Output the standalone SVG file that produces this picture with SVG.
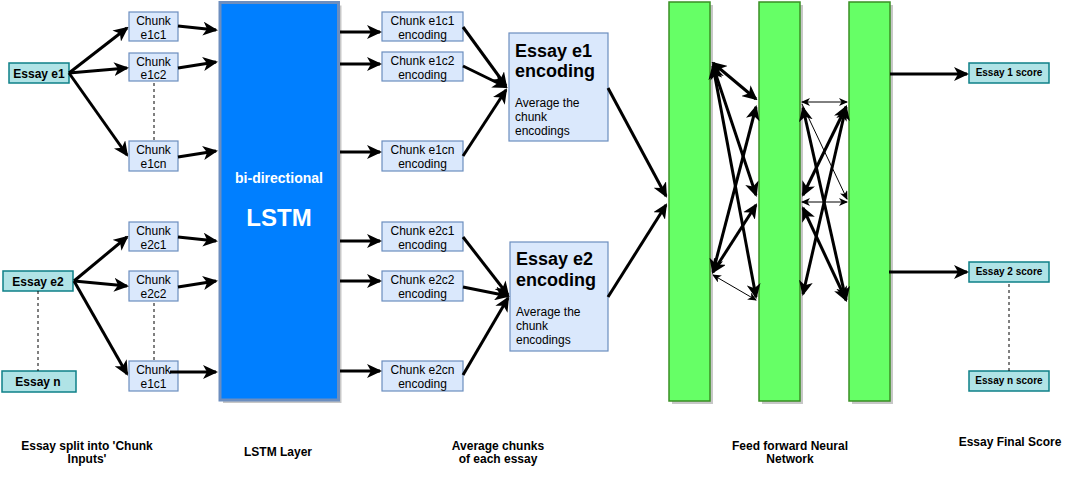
<svg xmlns="http://www.w3.org/2000/svg" width="1080" height="481" viewBox="0 0 1080 481">
<defs>
<style>
.essay{fill:#b0e3e6;stroke:#0e8088;stroke-width:1.5}
.chunk{fill:#dae8fc;stroke:#6c8ebf;stroke-width:1.2}
.t{font-family:"Liberation Sans",Arial,sans-serif;fill:#000}
.b{font-weight:bold}
.c12{font-size:12px}
.cw{stroke:#000;stroke-width:3;fill:none}
.thin{stroke:#000;stroke-width:1;fill:none}
.dash{stroke:#000;stroke-width:1;stroke-dasharray:3 3;fill:none}
.bar{fill:#66ff66;stroke:#3a8f24;stroke-width:1.5}
.shadow{fill:#bdbdbd;opacity:0.85}
</style>
<marker id="ah" viewBox="0 0 15 14" markerWidth="15" markerHeight="14" refX="13" refY="7" orient="auto-start-reverse" markerUnits="userSpaceOnUse"><path d="M0,0 L15,7 L0,14 L4,7 z" fill="#000"/></marker>
<marker id="ahs" viewBox="0 0 9 8" markerWidth="9" markerHeight="8" refX="8" refY="4" orient="auto-start-reverse" markerUnits="userSpaceOnUse"><path d="M0,0 L9,4 L0,8 L2.5,4 z" fill="#000"/></marker>
</defs>
<rect width="1080" height="481" fill="#fff"/>

<!-- LSTM -->
<g id="lstm">
<rect x="223" y="5.5" width="118.5" height="397.5" class="shadow"/>
<rect x="220" y="2.5" width="118.5" height="397.5" fill="#007fff" stroke="#6c8ebf" stroke-width="3"/>
<text x="279" y="183" text-anchor="middle" class="t b" style="font-size:14px;fill:#fff">bi-directional</text>
<text x="279" y="225.5" text-anchor="middle" class="t b" style="font-size:24px;fill:#fff">LSTM</text>
</g>

<!-- FFNN bars -->
<g id="bar1"><rect x="672" y="5" width="41" height="399" class="shadow"/><rect x="669" y="2" width="41" height="399" class="bar"/></g>
<g id="bar2"><rect x="762" y="5" width="41" height="399" class="shadow"/><rect x="759" y="2" width="41" height="399" class="bar"/></g>
<g id="bar3"><rect x="852" y="5" width="41" height="399" class="shadow"/><rect x="849" y="2" width="41" height="399" class="bar"/></g>

<!-- Essays -->
<g id="essay-e1"><rect x="9" y="63" width="60" height="20" class="essay"/><text x="39" y="77.5" text-anchor="middle" class="t b c12">Essay e1</text></g>
<g id="essay-e2"><rect x="3" y="271" width="70" height="20" class="essay"/><text x="38" y="285.5" text-anchor="middle" class="t b c12">Essay e2</text></g>
<g id="essay-n"><rect x="2" y="371" width="74" height="21" class="essay"/><text x="38" y="386" text-anchor="middle" class="t b c12">Essay n</text></g>

<!-- Chunks -->
<g id="chunk-e1c1"><rect x="129" y="12" width="49" height="29" class="chunk"/><text x="153.5" y="24.5" text-anchor="middle" class="t c12">Chunk</text><text x="153.5" y="38.5" text-anchor="middle" class="t c12">e1c1</text></g>
<g id="chunk-e1c2"><rect x="129" y="53" width="49" height="28" class="chunk"/><text x="153.5" y="65.5" text-anchor="middle" class="t c12">Chunk</text><text x="153.5" y="79" text-anchor="middle" class="t c12">e1c2</text></g>
<g id="chunk-e1cn"><rect x="129" y="141" width="49" height="30" class="chunk"/><text x="153.5" y="154" text-anchor="middle" class="t c12">Chunk</text><text x="153.5" y="168" text-anchor="middle" class="t c12">e1cn</text></g>
<g id="chunk-e2c1"><rect x="129" y="222" width="49" height="29" class="chunk"/><text x="153.5" y="234.5" text-anchor="middle" class="t c12">Chunk</text><text x="153.5" y="248.5" text-anchor="middle" class="t c12">e2c1</text></g>
<g id="chunk-e2c2"><rect x="129" y="271" width="49" height="30" class="chunk"/><text x="153.5" y="284" text-anchor="middle" class="t c12">Chunk</text><text x="153.5" y="298" text-anchor="middle" class="t c12">e2c2</text></g>
<g id="chunk-e2cn"><rect x="129" y="361" width="49" height="30" class="chunk"/><text x="153.5" y="374" text-anchor="middle" class="t c12">Chunk</text><text x="153.5" y="388" text-anchor="middle" class="t c12">e1c1</text></g>

<!-- Chunk encodings -->
<g id="enc-e1c1"><rect x="382" y="12" width="81" height="29" class="chunk"/><text x="422.5" y="24.5" text-anchor="middle" class="t c12">Chunk e1c1</text><text x="422.5" y="38.5" text-anchor="middle" class="t c12">encoding</text></g>
<g id="enc-e1c2"><rect x="382" y="52" width="81" height="29" class="chunk"/><text x="422.5" y="64.5" text-anchor="middle" class="t c12">Chunk e1c2</text><text x="422.5" y="78.5" text-anchor="middle" class="t c12">encoding</text></g>
<g id="enc-e1cn"><rect x="382" y="141" width="81" height="30" class="chunk"/><text x="422.5" y="154" text-anchor="middle" class="t c12">Chunk e1cn</text><text x="422.5" y="168" text-anchor="middle" class="t c12">encoding</text></g>
<g id="enc-e2c1"><rect x="382" y="222" width="81" height="29" class="chunk"/><text x="422.5" y="234.5" text-anchor="middle" class="t c12">Chunk e2c1</text><text x="422.5" y="248.5" text-anchor="middle" class="t c12">encoding</text></g>
<g id="enc-e2c2"><rect x="382" y="271" width="81" height="30" class="chunk"/><text x="422.5" y="284" text-anchor="middle" class="t c12">Chunk e2c2</text><text x="422.5" y="298" text-anchor="middle" class="t c12">encoding</text></g>
<g id="enc-e2cn"><rect x="382" y="361" width="81" height="30" class="chunk"/><text x="422.5" y="374" text-anchor="middle" class="t c12">Chunk e2cn</text><text x="422.5" y="388" text-anchor="middle" class="t c12">encoding</text></g>

<!-- Essay encodings -->
<g id="essay-e1-enc"><rect x="509" y="33" width="99" height="108" class="chunk"/>
<text x="515" y="56.5" class="t b" style="font-size:18px">Essay e1</text>
<text x="515" y="77" class="t b" style="font-size:18px">encoding</text>
<text x="515" y="107" class="t c12">Average the</text>
<text x="515" y="121" class="t c12">chunk</text>
<text x="515" y="135" class="t c12">encodings</text></g>
<g id="essay-e2-enc"><rect x="510" y="242" width="98" height="109" class="chunk"/>
<text x="516" y="265" class="t b" style="font-size:18px">Essay e2</text>
<text x="516" y="285.5" class="t b" style="font-size:18px">encoding</text>
<text x="516" y="315.5" class="t c12">Average the</text>
<text x="516" y="329.5" class="t c12">chunk</text>
<text x="516" y="343.5" class="t c12">encodings</text></g>

<!-- Scores -->
<g id="score-1"><rect x="969" y="63" width="80" height="20" class="essay"/><text x="1009" y="76" text-anchor="middle" class="t b" style="font-size:10px">Essay 1 score</text></g>
<g id="score-2"><rect x="969" y="262" width="80" height="20" class="essay"/><text x="1009" y="275" text-anchor="middle" class="t b" style="font-size:10px">Essay 2 score</text></g>
<g id="score-n"><rect x="969" y="371" width="80" height="20" class="essay"/><text x="1009" y="384" text-anchor="middle" class="t b" style="font-size:10px">Essay n score</text></g>

<!-- Connectors -->
<g id="connectors">
<line x1="38" y1="291" x2="38" y2="371" class="dash"/>
<line x1="154" y1="83" x2="154" y2="141" class="dash"/>
<line x1="154" y1="303" x2="154" y2="361" class="dash"/>
<line x1="1009" y1="284" x2="1009" y2="371" class="dash"/>

<line x1="69" y1="73" x2="127" y2="28" class="cw" marker-end="url(#ah)"/>
<line x1="69" y1="73" x2="127" y2="68" class="cw" marker-end="url(#ah)"/>
<line x1="69" y1="73" x2="127" y2="155" class="cw" marker-end="url(#ah)"/>
<line x1="74" y1="281" x2="127" y2="237" class="cw" marker-end="url(#ah)"/>
<line x1="74" y1="281" x2="127" y2="286" class="cw" marker-end="url(#ah)"/>
<line x1="74" y1="281" x2="127" y2="374" class="cw" marker-end="url(#ah)"/>

<line x1="178" y1="26" x2="216" y2="30" class="cw" marker-end="url(#ah)"/>
<line x1="178" y1="68" x2="216" y2="62" class="cw" marker-end="url(#ah)"/>
<line x1="178" y1="157" x2="216" y2="151" class="cw" marker-end="url(#ah)"/>
<line x1="178" y1="237" x2="216" y2="241" class="cw" marker-end="url(#ah)"/>
<line x1="178" y1="287" x2="216" y2="281" class="cw" marker-end="url(#ah)"/>
<line x1="170" y1="372" x2="216" y2="372" class="cw" marker-end="url(#ah)"/>

<line x1="340" y1="32" x2="380" y2="32" class="cw" marker-end="url(#ah)"/>
<line x1="340" y1="64" x2="380" y2="64" class="cw" marker-end="url(#ah)"/>
<line x1="340" y1="152" x2="380" y2="152" class="cw" marker-end="url(#ah)"/>
<line x1="340" y1="241" x2="380" y2="241" class="cw" marker-end="url(#ah)"/>
<line x1="340" y1="281" x2="380" y2="281" class="cw" marker-end="url(#ah)"/>
<line x1="340" y1="371" x2="380" y2="371" class="cw" marker-end="url(#ah)"/>

<line x1="463" y1="27" x2="506" y2="86" class="cw" marker-end="url(#ah)"/>
<line x1="463" y1="66" x2="506" y2="87" class="cw" marker-end="url(#ah)"/>
<line x1="463" y1="156" x2="506" y2="90" class="cw" marker-end="url(#ah)"/>
<line x1="463" y1="237" x2="508" y2="295" class="cw" marker-end="url(#ah)"/>
<line x1="463" y1="287" x2="508" y2="296" class="cw" marker-end="url(#ah)"/>
<line x1="463" y1="375" x2="508" y2="298" class="cw" marker-end="url(#ah)"/>

<line x1="608" y1="88" x2="666" y2="196" class="cw" marker-end="url(#ah)"/>
<line x1="608" y1="297" x2="666" y2="205" class="cw" marker-end="url(#ah)"/>

<!-- bar1 <-> bar2 -->
<line x1="713" y1="63" x2="756" y2="99" class="cw" marker-start="url(#ah)" marker-end="url(#ah)"/>
<line x1="713" y1="66" x2="756" y2="195" class="cw" marker-start="url(#ah)" marker-end="url(#ah)"/>
<line x1="713" y1="66" x2="756" y2="297" class="cw" marker-start="url(#ah)" marker-end="url(#ah)"/>
<line x1="713" y1="272" x2="756" y2="107" class="cw" marker-start="url(#ah)" marker-end="url(#ah)"/>
<line x1="713" y1="272" x2="756" y2="205" class="cw" marker-start="url(#ah)" marker-end="url(#ah)"/>
<line x1="713" y1="275" x2="756" y2="300" class="thin" marker-start="url(#ahs)" marker-end="url(#ahs)"/>

<!-- bar2 <-> bar3 -->
<line x1="802" y1="102" x2="847" y2="102" class="thin" marker-start="url(#ahs)" marker-end="url(#ahs)"/>
<line x1="802" y1="202" x2="847" y2="202" class="thin" marker-start="url(#ahs)" marker-end="url(#ahs)"/>
<line x1="802" y1="104" x2="847" y2="199" class="thin" marker-end="url(#ahs)"/>
<line x1="803" y1="108" x2="846" y2="300" class="cw" marker-start="url(#ah)" marker-end="url(#ah)"/>
<line x1="803" y1="208" x2="846" y2="300" class="cw" marker-start="url(#ah)" marker-end="url(#ah)"/>
<line x1="846" y1="107" x2="803" y2="195" class="cw" marker-start="url(#ah)" marker-end="url(#ah)"/>
<line x1="846" y1="107" x2="803" y2="294" class="cw" marker-start="url(#ah)" marker-end="url(#ah)"/>

<line x1="890" y1="74" x2="967" y2="74" class="cw" marker-end="url(#ah)"/>
<line x1="889" y1="272" x2="967" y2="272" class="cw" marker-end="url(#ah)"/>
</g>

<!-- Bottom labels -->
<g id="labels">
<text x="87" y="449.5" text-anchor="middle" class="t b c12">Essay split into 'Chunk</text>
<text x="87" y="462.5" text-anchor="middle" class="t b c12">Inputs'</text>
<text x="278" y="456" text-anchor="middle" class="t b c12">LSTM Layer</text>
<text x="498" y="449.5" text-anchor="middle" class="t b c12">Average chunks</text>
<text x="498" y="462.5" text-anchor="middle" class="t b c12">of each essay</text>
<text x="790" y="449.5" text-anchor="middle" class="t b c12">Feed forward Neural</text>
<text x="790" y="462.5" text-anchor="middle" class="t b c12">Network</text>
<text x="1010" y="446" text-anchor="middle" class="t b c12">Essay Final Score</text>
</g>
</svg>
